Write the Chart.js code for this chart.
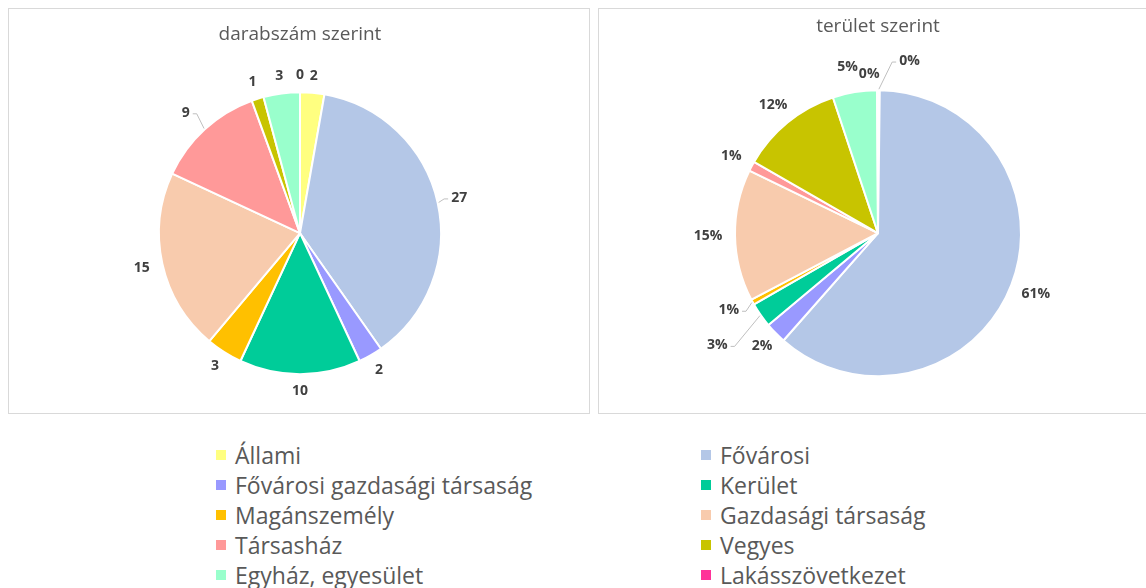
<!DOCTYPE html>
<html>
<head>
<meta charset="utf-8">
<script src="https://cdn.jsdelivr.net/npm/chart.js@4.4.1/dist/chart.umd.min.js"></script>
<style>
  html, body { margin: 0; padding: 0; background: #ffffff; }
  body { width: 1146px; height: 588px; position: relative; overflow: hidden; font-family: "Open Sans", Lato, sans-serif; }
  .panel { position: absolute; border: 1px solid #d9d9d9; box-sizing: border-box; background: #fff; }
  #p1 { left: 8px; top: 8px; width: 582px; height: 406px; }
  #p2 { left: 598px; top: 8px; width: 560px; height: 406px; }
  canvas { position: absolute; display: block; }
  #c1 { left: 9px; top: 9px; }
  #c2 { left: 599px; top: 9px; }
  .legend { position: absolute; top: 440px; font-size: 23px; color: #595959; line-height: 30px; }
  #legL { left: 216px; }
  #legR { left: 701px; }
  .item { white-space: nowrap; height: 30px; display: flex; align-items: center; }
  .sw { width: 10px; height: 10px; margin-right: 9px; display: inline-block; }
</style>
</head>
<body>
<div class="panel" id="p1"></div>
<div class="panel" id="p2"></div>
<canvas id="c1" width="580" height="404"></canvas>
<canvas id="c2" width="547" height="404"></canvas>
<div class="legend" id="legL"></div>
<div class="legend" id="legR"></div>
<script>
// ---- DATA ----
const categories = ['Állami', 'Fővárosi', 'Fővárosi gazdasági társaság', 'Kerület', 'Magánszemély',
  'Gazdasági társaság', 'Társasház', 'Vegyes', 'Egyház, egyesület', 'Lakásszövetkezet'];
const countValues = [2, 27, 2, 10, 3, 15, 9, 1, 3, 0];
const areaValues = [0.2, 61.3, 2.4, 2.8, 0.6, 14.9, 1.1, 11.6, 5.0, 0.1];
const titleCount = 'darabszám szerint';
const titleArea = 'terület szerint';

// ---- STYLE ----
const colors = ['#FFFF80', '#B4C7E7', '#9999FF', '#00CC99', '#FFC000',
  '#F8CBAD', '#FF9999', '#C8C400', '#99FFCC', '#FF3399'];

const outLabels = {
  id: 'outLabels',
  afterDatasetsDraw(chart, args, opts) {
    const ctx = chart.ctx;
    const meta = chart.getDatasetMeta(0);
    ctx.save();
    ctx.font = 'bold 14px "Open Sans", Lato, sans-serif';
    ctx.fillStyle = '#404040';
    ctx.textAlign = 'center';
    ctx.textBaseline = 'middle';
    meta.data.forEach((arc, i) => {
      const p = arc.getProps(['x', 'y', 'startAngle', 'endAngle', 'outerRadius'], true);
      const realMid = (p.startAngle + p.endAngle) / 2;
      const mid = realMid + ((opts.shift && opts.shift[i]) || 0) * Math.PI / 180;
      const extra = (opts.extra && opts.extra[i] != null) ? opts.extra[i] : opts.base;
      const d = p.outerRadius + extra;
      const lx = p.x + Math.cos(mid) * d;
      const ly = p.y + Math.sin(mid) * d;
      const txt = opts.format(chart.data.datasets[0].data[i]);
      if (opts.leader && opts.leader[i]) {
        const ex = p.x + Math.cos(realMid) * (p.outerRadius + 1);
        const ey = p.y + Math.sin(realMid) * (p.outerRadius + 1);
        const w = ctx.measureText(txt).width;
        const sign = ex > lx ? 1 : -1;
        const endX = lx + sign * (w / 2 + 3);
        ctx.strokeStyle = '#bfbfbf';
        ctx.lineWidth = 1;
        ctx.beginPath();
        ctx.moveTo(ex, ey);
        ctx.lineTo(endX + sign * 4, ly + 1);
        ctx.lineTo(endX, ly + 1);
        ctx.stroke();
      }
      ctx.fillText(txt, lx, ly);
    });
    ctx.restore();
  }
};

function makeChart(id, values, title, radius, pad, titlePad, labelOpts) {
  return new Chart(document.getElementById(id), {
    type: 'pie',
    data: {
      labels: categories,
      datasets: [{
        data: values,
        backgroundColor: colors,
        borderColor: '#ffffff',
        borderWidth: 2,
        radius: radius
      }]
    },
    options: {
      responsive: false,
      animation: false,
      devicePixelRatio: 1,
      layout: { padding: pad },
      plugins: {
        legend: { display: false },
        tooltip: { enabled: false },
        title: {
          display: true,
          text: title,
          color: '#595959',
          font: { family: '"Open Sans", Lato, sans-serif', size: 19, weight: 'normal', lineHeight: 1.2 },
          padding: titlePad
        },
        outLabels: labelOpts
      }
    },
    plugins: [outLabels]
  });
}

// title block height = 19*1.2 = 22.8
makeChart('c1', countValues, titleCount, 141,
  { left: 2, right: 0, top: 0, bottom: 0 },
  { top: 14.6, bottom: 7 },
  {
    base: 17,
    extra: [null, 22, null, null, null, 21, 25, null, 18, null],
    shift: [0, 0, 0, 0, 0, 0, -1, 0, 0, 0],
    leader: [false, true, false, false, false, false, true, false, false, false],
    format: v => String(v)
  });

makeChart('c2', areaValues, titleArea, 143,
  { left: 11, right: 0, top: 0, bottom: 0 },
  { top: 6.6, bottom: 15 },
  {
    base: 23,
    shift: [10, 0, 0, 0, 1.5, 0, 0, 0, -1, -3],
    extra: [32, 26, 19, 53, 25, 27, null, null, 26, 16],
    leader: [true, false, false, true, true, false, false, false, false, false],
    format: v => Math.round(v) + '%'
  });

// ---- HTML legend (two columns) ----
const legL = document.getElementById('legL');
const legR = document.getElementById('legR');
categories.forEach((c, i) => {
  const div = document.createElement('div');
  div.className = 'item';
  const sw = document.createElement('span');
  sw.className = 'sw';
  sw.style.background = colors[i];
  div.appendChild(sw);
  div.appendChild(document.createTextNode(c));
  (i % 2 === 0 ? legL : legR).appendChild(div);
});
</script>
</body>
</html>
